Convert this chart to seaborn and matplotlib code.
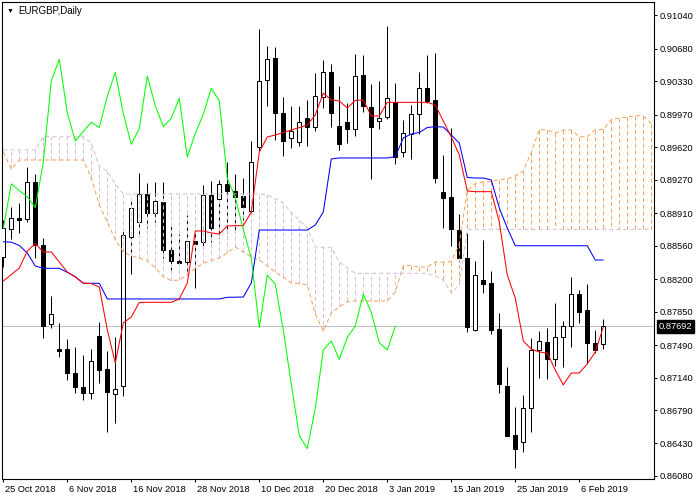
import numpy as np
import pandas as pd
import matplotlib
matplotlib.use("Agg")
import matplotlib.pyplot as plt
import matplotlib.transforms as mtransforms
import seaborn as sns

# ---------------- data (EURGBP, Daily) ----------------
open_ = [0.88443, 0.88736, 0.88863, 0.88844, 0.89242, 0.88567, 0.87713, 0.87447, 0.87447, 0.87192,
         0.87038, 0.86970, 0.87590, 0.87232, 0.86960, 0.87054, 0.88656, 0.88818, 0.89111, 0.88908,
         0.89027, 0.88510, 0.88398, 0.88387, 0.88615, 0.88596, 0.89105, 0.89059, 0.89224, 0.89145,
         0.89095, 0.88938, 0.89622, 0.90338, 0.90577, 0.89985, 0.89724, 0.89673, 0.89932, 0.89841,
         0.90164, 0.90426, 0.89848, 0.89889, 0.89813, 0.90397, 0.90049, 0.89897, 0.89948, 0.90104,
         0.89565, 0.89760, 0.89974, 0.90254, 0.90128, 0.89134, 0.89087, 0.88728, 0.88424, 0.87657,
         0.88190, 0.88158, 0.87663, 0.87049, 0.86521, 0.86443, 0.86809, 0.87437, 0.87519, 0.87336,
         0.87580, 0.87698, 0.88039, 0.87867, 0.87509, 0.87498]
high = [0.88836, 0.88973, 0.89016, 0.89410, 0.89331, 0.88639, 0.88018, 0.87727, 0.87555, 0.87469,
        0.87383, 0.87447, 0.87738, 0.87426, 0.87580, 0.88750, 0.89051, 0.89339, 0.89234, 0.89240,
        0.89240, 0.88793, 0.88685, 0.88890, 0.88728, 0.89213, 0.89256, 0.89272, 0.89460, 0.89331,
        0.89288, 0.89687, 0.90892, 0.90709, 0.90695, 0.90157, 0.90063, 0.90063, 0.90123, 0.90419,
        0.90555, 0.90516, 0.90279, 0.90093, 0.90623, 0.90612, 0.90300, 0.90333, 0.90927, 0.90311,
        0.89913, 0.90074, 0.90430, 0.90612, 0.90637, 0.89536, 0.89827, 0.88897, 0.88693, 0.88395,
        0.88626, 0.88287, 0.87835, 0.87257, 0.86823, 0.86952, 0.87562, 0.87644, 0.87670, 0.87946,
        0.87752, 0.88226, 0.88082, 0.88147, 0.87652, 0.87770]
low = [0.88330, 0.88628, 0.88693, 0.88818, 0.88424, 0.87569, 0.87677, 0.87364, 0.87114, 0.86970,
       0.86898, 0.86909, 0.87084, 0.86557, 0.86647, 0.86944, 0.88251, 0.88675, 0.88747, 0.88818,
       0.88427, 0.88298, 0.88368, 0.88262, 0.88104, 0.88556, 0.88599, 0.88639, 0.88693, 0.88693,
       0.88836, 0.88901, 0.89579, 0.90063, 0.89697, 0.89528, 0.89615, 0.89633, 0.89633, 0.89794,
       0.90039, 0.89832, 0.89590, 0.89670, 0.89744, 0.89999, 0.89280, 0.89816, 0.89923, 0.89442,
       0.89518, 0.89490, 0.89762, 0.90096, 0.89231, 0.88753, 0.88559, 0.88381, 0.87634, 0.87641,
       0.88053, 0.87606, 0.86977, 0.86511, 0.86169, 0.86342, 0.86557, 0.87138, 0.87121, 0.87264,
       0.87257, 0.87472, 0.87724, 0.87293, 0.87407, 0.87451]
close = [0.88750, 0.88854, 0.88841, 0.89242, 0.88567, 0.87698, 0.87824, 0.87429, 0.87186, 0.87035,
         0.86977, 0.87318, 0.87221, 0.86988, 0.87013, 0.88671, 0.88962, 0.89116, 0.88908, 0.89037,
         0.88508, 0.88398, 0.88376, 0.88607, 0.88583, 0.89102, 0.88747, 0.89224, 0.89152, 0.89087,
         0.88971, 0.89457, 0.90333, 0.90566, 0.89991, 0.89687, 0.89789, 0.89889, 0.89832, 0.90169,
         0.90426, 0.89983, 0.89651, 0.89821, 0.90386, 0.90066, 0.89841, 0.89932, 0.90146, 0.89514,
         0.89770, 0.89974, 0.90254, 0.90120, 0.89283, 0.89078, 0.88734, 0.88424, 0.87679, 0.88244,
         0.88144, 0.87652, 0.87067, 0.86514, 0.86376, 0.86809, 0.87437, 0.87533, 0.87336, 0.87573,
         0.87695, 0.88039, 0.87842, 0.87515, 0.87437, 0.87692]

tenkan = [0.88179, 0.88249, 0.88319, 0.88502, 0.88583, 0.88492, 0.88492, 0.88384, 0.88276, 0.88222,
          0.88155, 0.88152, 0.88115, 0.87652, 0.87297, 0.87727, 0.87792, 0.87948, 0.87950, 0.87950,
          0.87950, 0.87950, 0.87986, 0.88158, 0.88718, 0.88718, 0.88696, 0.88685, 0.88772, 0.88775,
          0.88775, 0.88922, 0.89568, 0.89730, 0.89751, 0.89778, 0.89805, 0.89832, 0.89859, 0.89967,
          0.90203, 0.90128, 0.90117, 0.90042, 0.90123, 0.90128, 0.89956, 0.89956, 0.90103, 0.90103,
          0.90103, 0.90103, 0.90103, 0.90103, 0.90074, 0.89902, 0.89730, 0.89536, 0.89148, 0.89141,
          0.89141, 0.89141, 0.88815, 0.88244, 0.87996, 0.87533, 0.87447, 0.87415, 0.87404, 0.87221,
          0.87060, 0.87189, 0.87189, 0.87286, 0.87415, 0.87684]
kijun = [0.88602, 0.88597, 0.88562, 0.88481, 0.88341, 0.88316, 0.88316, 0.88316, 0.88273, 0.88226,
         0.88155, 0.88155, 0.88155, 0.87986, 0.87986, 0.87986, 0.87986, 0.87986, 0.87986, 0.87986,
         0.87986, 0.87986, 0.87986, 0.87986, 0.87986, 0.87986, 0.87986, 0.87986, 0.88004, 0.88005,
         0.88007, 0.88158, 0.88728, 0.88728, 0.88728, 0.88728, 0.88728, 0.88728, 0.88728, 0.88782,
         0.88922, 0.89493, 0.89504, 0.89504, 0.89504, 0.89504, 0.89504, 0.89504, 0.89504, 0.89518,
         0.89719, 0.89762, 0.89778, 0.89832, 0.89841, 0.89837, 0.89751, 0.89665, 0.89294, 0.89288,
         0.89288, 0.89267, 0.88965, 0.88750, 0.88559, 0.88559, 0.88559, 0.88559, 0.88559, 0.88559,
         0.88559, 0.88559, 0.88559, 0.88559, 0.88405, 0.88405]
senkou_a = [0.89568, 0.89385, 0.89482, 0.89482, 0.89482, 0.89482, 0.89482, 0.89482, 0.89482, 0.89482,
            0.89482, 0.89288, 0.88998, 0.88815, 0.88621, 0.88495, 0.88449, 0.88427, 0.88395, 0.88319,
            0.88226, 0.88183, 0.88190, 0.88244, 0.88319, 0.88370, 0.88400, 0.88427, 0.88481, 0.88545,
            0.88492, 0.88438, 0.88405, 0.88341, 0.88276, 0.88222, 0.88158, 0.88152, 0.88136, 0.87824,
            0.87641, 0.87835, 0.87899, 0.87959, 0.87964, 0.87964, 0.87964, 0.87964, 0.87964, 0.88061,
            0.88346, 0.88346, 0.88330, 0.88330, 0.88384, 0.88384, 0.88389, 0.88578, 0.89154, 0.89230,
            0.89245, 0.89251, 0.89272, 0.89277, 0.89310, 0.89364, 0.89565, 0.89810, 0.89805, 0.89773,
            0.89805, 0.89805, 0.89733, 0.89733, 0.89810, 0.89811, 0.89918, 0.89934, 0.89942, 0.89961,
            0.89956, 0.89875]
senkou_b = [0.89590, 0.89590, 0.89590, 0.89590, 0.89590, 0.89733, 0.89733, 0.89733, 0.89733, 0.89733,
            0.89733, 0.89665, 0.89407, 0.89364, 0.89224, 0.89116, 0.89116, 0.89116, 0.89116, 0.89116,
            0.89116, 0.89116, 0.89116, 0.89116, 0.89116, 0.89116, 0.89116, 0.89116, 0.89116, 0.89116,
            0.89116, 0.89116, 0.89116, 0.89105, 0.89062, 0.89019, 0.88917, 0.88836, 0.88750, 0.88545,
            0.88542, 0.88542, 0.88384, 0.88319, 0.88262, 0.88262, 0.88262, 0.88262, 0.88262, 0.88262,
            0.88262, 0.88262, 0.88262, 0.88262, 0.88233, 0.88190, 0.88050, 0.88136, 0.88735, 0.88735,
            0.88735, 0.88735, 0.88735, 0.88735, 0.88735, 0.88735, 0.88735, 0.88735, 0.88735, 0.88735,
            0.88735, 0.88735, 0.88735, 0.88735, 0.88735, 0.88735, 0.88735, 0.88735, 0.88735, 0.88735,
            0.88735, 0.88735]

date_labels = ["25 Oct 2018", "6 Nov 2018", "16 Nov 2018", "28 Nov 2018", "10 Dec 2018",
               "20 Dec 2018", "3 Jan 2019", "15 Jan 2019", "25 Jan 2019", "6 Feb 2019"]
price_ticks = [0.86080, 0.86430, 0.86790, 0.87140, 0.87490, 0.87850, 0.88200, 0.88560,
               0.88910, 0.89270, 0.89620, 0.89970, 0.90330, 0.90680, 0.91040]
last_price = 0.87692
chikou_shift = 26
label_step = 8

# ---------------- style ----------------
sns.set_style("white")
plt.rcParams["font.family"] = ["Liberation Sans", "DejaVu Sans"]
FS = 6.7
PX = 0.72   # one device pixel
LW = 0.75   # indicator lines

o = np.array(open_); h = np.array(high); l = np.array(low); c = np.array(close)
n = len(c)
bars = np.arange(n)
cloud_x = np.arange(len(senkou_a))
sa = np.array(senkou_a); sb = np.array(senkou_b)

fig = plt.figure(figsize=(7, 5), dpi=100)
ax = fig.add_axes([2 / 700, 21 / 500, 652 / 700, 477 / 500])

# bid line
ax.axhline(last_price, color="#C0C0C0", lw=PX, zorder=1, snap=True)

# candles
ax.vlines(bars, l, h, colors="black", lw=PX, zorder=2, snap=True)
up = c >= o
ax.bar(bars[up], (c - o)[up], bottom=o[up], width=0.5, color="white",
       edgecolor="black", linewidth=PX, zorder=3, snap=True)
ax.bar(bars[~up], (c - o)[~up], bottom=o[~up], width=0.5, color="black",
       edgecolor="black", linewidth=PX, zorder=3, snap=True)

# cloud hatching
SANDY = "#F4A460"
THISTLE = "#D8BFD8"
DASH = (0, (4, 2.8))
hatch_cols = [SANDY if a > b else THISTLE for a, b in zip(sa, sb)]
ax.vlines(cloud_x, sa, sb, colors=hatch_cols, lw=PX, linestyles=DASH, zorder=4, snap=True)

# senkou spans
df_cloud = pd.DataFrame({"bar": cloud_x, "A": sa, "B": sb})
sns.lineplot(data=df_cloud, x="bar", y="A", ax=ax, color=SANDY, linewidth=LW,
             linestyle=DASH, sort=False, zorder=5)
sns.lineplot(data=df_cloud, x="bar", y="B", ax=ax, color=THISTLE, linewidth=LW,
             linestyle=DASH, sort=False, zorder=5)

# tenkan / kijun / chikou
df_lines = pd.DataFrame({"bar": bars, "tenkan": tenkan, "kijun": kijun})
sns.lineplot(data=df_lines, x="bar", y="kijun", ax=ax, color="#0000FF", linewidth=LW,
             sort=False, zorder=6)
sns.lineplot(data=df_lines, x="bar", y="tenkan", ax=ax, color="#FF0000", linewidth=LW,
             sort=False, zorder=6)
df_chikou = pd.DataFrame({"bar": bars[: n - chikou_shift], "chikou": c[chikou_shift:]})
sns.lineplot(data=df_chikou, x="bar", y="chikou", ax=ax, color="#00FF00", linewidth=LW,
             sort=False, zorder=6)

# axes
ax.set_xlim(-0.1625, 81.34)
ax.set_ylim(0.860477, 0.911831)
ax.set_xlabel("")
ax.set_ylabel("")
for sp in ax.spines.values():
    sp.set_visible(True)
    sp.set_color("black")
    sp.set_linewidth(0.8)

ax.yaxis.tick_right()
ax.set_yticks(price_ticks)
ax.set_yticklabels([f"{p:.5f}" for p in price_ticks], fontsize=FS, color="black")
ax.tick_params(axis="y", which="both", right=True, left=False, direction="out",
               length=2, width=0.75, pad=2, colors="black")

xt = np.arange(0, label_step * len(date_labels), label_step)
ax.set_xticks(xt)
ax.set_xticklabels(date_labels, fontsize=FS, color="black")
ax.tick_params(axis="x", which="both", bottom=True, direction="out",
               length=2, width=0.75, pad=2.5, colors="black")
off = mtransforms.ScaledTranslation(1.5 / 72, 0, fig.dpi_scale_trans)
for lbl in ax.get_xticklabels():
    lbl.set_horizontalalignment("left")
    lbl.set_transform(lbl.get_transform() + off)
ax.grid(False)

# current price label
trans = mtransforms.blended_transform_factory(ax.transAxes, ax.transData)
ax.text(1.0 + 5 / 652, last_price, f"{last_price:.5f}", transform=trans, fontsize=FS,
        color="white", ha="left", va="center", zorder=10, clip_on=False,
        bbox=dict(boxstyle="square,pad=0.2", fc="black", ec="black"))

# title
fig.text(7 / 700, 1 - 11 / 500, "\u25BC", fontsize=5, color="black", ha="left", va="center")
fig.text(18 / 700, 1 - 10.5 / 500, "EURGBP,Daily", fontsize=7, color="black", ha="left", va="center")

fig.savefig("out.png", dpi=100, facecolor="white")
